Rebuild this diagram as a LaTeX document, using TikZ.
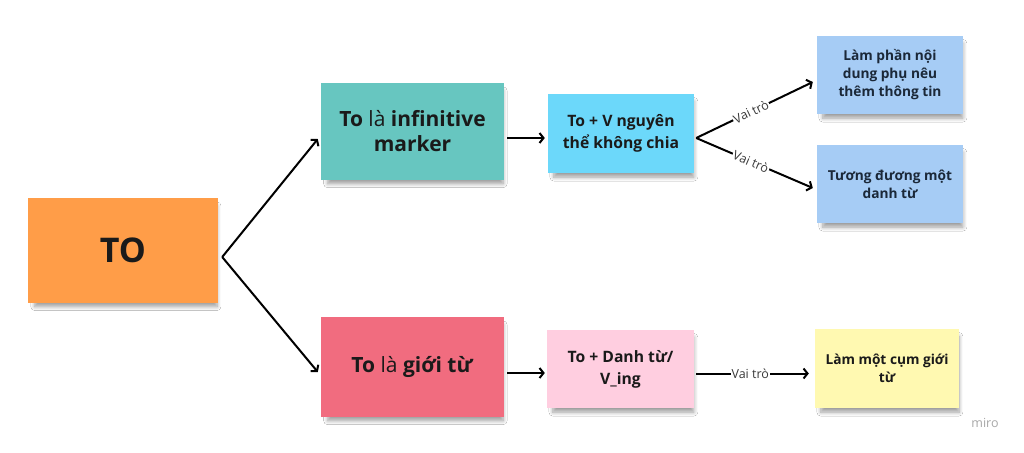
\documentclass[tikz,border=0pt]{standalone}
\usepackage{fontspec}
\setmainfont{Open Sans}
\usetikzlibrary{arrows.meta,shadows.blur,calc}
\definecolor{cOrange}{HTML}{FF9D48}
\definecolor{cTeal}{HTML}{67C6C0}
\definecolor{cSky}{HTML}{6CD8FA}
\definecolor{cLBlue}{HTML}{A6CCF5}
\definecolor{cPink}{HTML}{F16C7F}
\definecolor{cLPink}{HTML}{FFCEE0}
\definecolor{cYellow}{HTML}{FFF9B1}
\definecolor{cText}{HTML}{1A1A1A}
\definecolor{cNavy}{HTML}{1B2838}
\definecolor{cLabel}{HTML}{3A3A3A}
\definecolor{cMiro}{HTML}{A8A8A8}
\begin{document}
\begin{tikzpicture}[x=1pt,y=-1pt,
  note/.style={inner sep=2pt, align=center, text=cText,
    blur shadow={shadow xshift=3pt, shadow yshift=-6pt, shadow opacity=38,
      shadow blur steps=8, shadow blur radius=4pt, shadow scale=0.96}},
  bigfont/.style={font=\fontsize{21}{25}\selectfont},
  midfont/.style={font=\fontsize{15.7}{22}\selectfont\bfseries},
  smallfont/.style={font=\fontsize{13.7}{18}\selectfont\bfseries},
  arr/.style={line width=2pt, draw=black, -{Straight Barb[length=4pt,width=10pt]}},
  lbl/.style={font=\fontsize{12.5}{14}\selectfont, text=cLabel, fill=white, inner sep=1pt}
]
\useasboundingbox[fill=white] (0,0) rectangle (1024,452);

\node[note, fill=cOrange, minimum width=190pt, minimum height=105pt,
  font=\fontsize{34}{40}\selectfont\bfseries] (to) at (123,250.5) {TO};

\node[note, fill=cTeal, minimum width=183pt, minimum height=97pt, bigfont] (inf) at (412.5,131.5)
  {\textbf{To} là \textbf{infinitive}\\\textbf{marker}};
\node[note, fill=cPink, minimum width=183pt, minimum height=100pt, bigfont] (prep) at (412.5,367)
  {\textbf{To} là \textbf{giới từ}};

\node[note, fill=cSky, minimum width=146pt, minimum height=79pt, midfont] (vinf) at (621,133.5)
  {To + V nguyên\\thể không chia};
\node[note, fill=cLPink, minimum width=147pt, minimum height=78pt, midfont] (noun) at (620.5,369)
  {To + Danh từ/\\V\_ing};

\node[note, fill=cLBlue, minimum width=146pt, minimum height=78pt, smallfont, text=cNavy] (r1) at (890,75)
  {Làm phần nội\\dung phụ nêu\\thêm thông tin};
\node[note, fill=cLBlue, minimum width=146pt, minimum height=78pt, smallfont, text=cNavy] (r2) at (890,184)
  {Tương đương một\\danh từ};
\node[note, fill=cYellow, minimum width=144pt, minimum height=79pt, smallfont] (r3) at (887,368.5)
  {Làm một cụm giới\\từ};

\coordinate (v1) at ([xshift=4pt,yshift=-6.5pt]to.east);
\draw[arr] (v1) -- ([xshift=-3pt,yshift=-7.5pt]inf.west);
\draw[arr] (v1) -- ([xshift=-3pt,yshift=-5pt]prep.west);

\coordinate (a1) at ([xshift=3pt,yshift=-6.5pt]inf.east);
\draw[arr] (a1) -- ([xshift=-3pt]a1 -| vinf.west);
\coordinate (a2) at ([xshift=3pt,yshift=-6pt]prep.east);
\draw[arr] (a2) -- ([xshift=-2pt]a2 -| noun.west);

\coordinate (v2) at ([xshift=2pt,yshift=-4.5pt]vinf.east);
\draw[arr] (v2) -- node[lbl, sloped, pos=0.47] {Vai trò} ([xshift=-4pt,yshift=-7pt]r1.west);
\draw[arr] (v2) -- node[lbl, sloped, pos=0.47] {Vai trò} ([xshift=-4pt,yshift=-4pt]r2.west);

\coordinate (a3) at ([xshift=2pt,yshift=-4.5pt]noun.east);
\draw[arr] (a3) -- node[lbl, pos=0.48] {Vai trò} ([xshift=-6pt]a3 -| r3.west);

\node[font=\fontsize{12.5}{14}\selectfont, text=cMiro] (miro) at (985,423) {miro};
\end{tikzpicture}
\end{document}
